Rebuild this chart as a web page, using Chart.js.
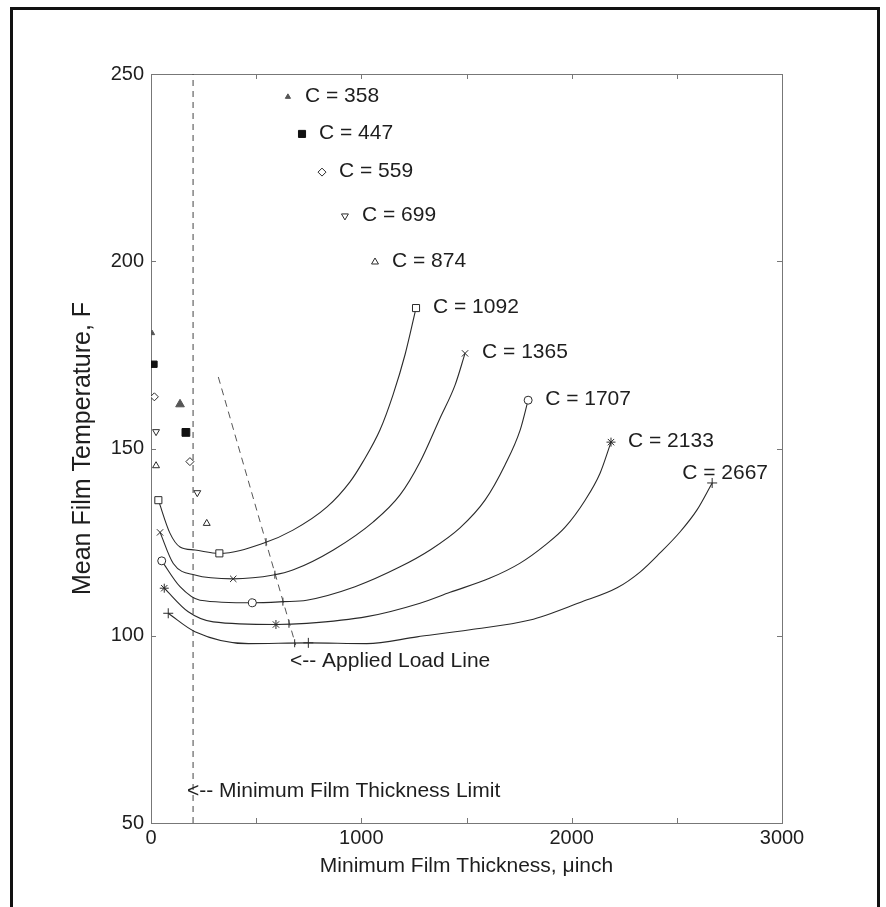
<!DOCTYPE html>
<html>
<head>
<meta charset="utf-8">
<script src="https://cdn.jsdelivr.net/npm/chart.js@4/dist/chart.umd.min.js"></script>
<style>
  html, body { margin: 0; padding: 0; background: #fff; overflow: hidden; }
  #frame { position: absolute; left: 10px; top: 7px; width: 864px; height: 1000px; border: 3px solid #111; }
  #chart { position: absolute; left: 0; top: 0; }
</style>
</head>
<body>
<div id="frame"></div>
<canvas id="chart" width="886" height="907"></canvas>
<script>
// Mean film temperature vs minimum film thickness, one series per clearance C

// axis ticks
const thicknessTicks  = [0, 500, 1000, 1500, 2000, 2500, 3000];
const thicknessLabels = [0, 1000, 2000, 3000];
const temperatureTicks = [50, 100, 150, 200, 250];

// clearances with no feasible curve: three isolated points each
const c358X = [5, 138, 651],   c358Y = [180.8, 161.8, 243.9];
const c447X = [14, 166, 718],  c447Y = [172.5, 154.3, 234.0];
const c559X = [16, 185, 813],  c559Y = [163.8, 146.5, 223.8];
const c699X = [24, 220, 922],  c699Y = [154.5, 138.2, 212.1];
const c874X = [24, 265, 1065], c874Y = [145.4, 130.0, 199.8];

// full curves
const c1092X = [35, 90, 138, 209, 325, 534, 675, 837, 946, 1008, 1089, 1151, 1208, 1260];
const c1092Y = [136.2, 127.4, 123.7, 122.9, 122.0, 124.7, 128.2, 134.4, 141.1, 146.5, 155.0, 164.4, 175.1, 187.5];
const c1365X = [43, 106, 209, 391, 582, 677, 867, 1057, 1184, 1279, 1374, 1446, 1493];
const c1365Y = [127.6, 119.3, 116.2, 115.2, 116.2, 117.6, 122.9, 130.4, 137.6, 146.4, 158.1, 167.0, 175.4];
const c1707X = [51, 138, 233, 482, 629, 740, 970, 1184, 1327, 1469, 1588, 1683, 1755, 1793];
const c1707Y = [120.0, 113.1, 109.5, 108.8, 109.1, 109.5, 113.1, 118.4, 122.9, 128.8, 136.2, 145.6, 154.9, 162.9];
const c2133X = [63, 177, 296, 594, 740, 1026, 1279, 1422, 1612, 1755, 1874, 1969, 2064, 2135, 2187];
const c2133Y = [112.7, 106.4, 103.7, 103.0, 103.3, 105.1, 108.7, 111.6, 115.4, 119.4, 124.2, 129.0, 136.2, 143.4, 151.7];
const c2667X = [82, 209, 463, 748, 1026, 1265, 1517, 1802, 2040, 2216, 2325, 2420, 2515, 2596, 2668];
const c2667Y = [106.0, 101.1, 97.9, 98.1, 97.9, 99.7, 101.6, 104.2, 108.9, 112.8, 117.0, 122.1, 127.7, 133.6, 140.8];

// applied load line and where it cuts each curve
const loadLineX = [320, 688], loadLineY = [169.1, 97.5];
const loadCutX = [547, 589, 627, 656, 683];
const loadCutY = [125.0, 116.3, 109.1, 103.2, 98.0];

// minimum film thickness limit
const limitX = [200, 200], limitY = [50, 250];

// text notes (data coordinates of the left end of the text)
const notes = [
  { text: '<-- Applied Load Line', x: 661, y: 93.3 },
  { text: '<-- Minimum Film Thickness Limit', x: 171, y: 58.6 }
];

const ink = '#2a2a2a';
const FONT = "'Liberation Sans', Arial, Helvetica, sans-serif";

function pts(xs, ys) { return xs.map((x, i) => ({ x, y: ys[i] })); }

function spots(tag, xs, ys, style, r, fill, rot) {
  return {
    label: tag, tag, data: pts(xs, ys), showLine: false,
    pointStyle: style, pointRadius: r, pointRotation: rot || 0,
    pointBorderColor: fill || ink, pointBackgroundColor: fill || '#fff',
    pointBorderWidth: 1
  };
}

// markers only at the start, the marked operating point and the end
function curve(tag, xs, ys, style, r, mid) {
  const marks = [0, mid, xs.length - 1];
  return {
    label: tag, tag, data: pts(xs, ys), showLine: true,
    borderColor: ink, borderWidth: 1.1, cubicInterpolationMode: 'monotone',
    pointStyle: style, pointRadius: ctx => marks.includes(ctx.dataIndex) ? r : 0,
    pointBorderColor: ink, pointBackgroundColor: '#fff', pointBorderWidth: 1
  };
}

const datasets = [
  spots('C = 358', c358X, c358Y, 'triangle', [3, 5, 3], '#555'),
  spots('C = 447', c447X, c447Y, 'rect', [4.5, 5.5, 5], '#111'),
  spots('C = 559', c559X, c559Y, 'rectRot', 4),
  spots('C = 699', c699X, c699Y, 'triangle', 4, null, 180),
  spots('C = 874', c874X, c874Y, 'triangle', 4),
  curve('C = 1092', c1092X, c1092Y, 'rect', 5, 4),
  curve('C = 1365', c1365X, c1365Y, 'crossRot', 4.5, 3),
  curve('C = 1707', c1707X, c1707Y, 'circle', 4, 3),
  curve('C = 2133', c2133X, c2133Y, 'star', 4.5, 3),
  curve('C = 2667', c2667X, c2667Y, 'cross', 5, 3),
  {
    label: 'load', data: pts(loadLineX, loadLineY), showLine: true,
    borderColor: '#555', borderWidth: 1, borderDash: [7, 5], pointRadius: 0
  },
  {
    label: 'cuts', data: pts(loadCutX, loadCutY), showLine: false,
    pointStyle: 'line', pointRotation: 90, pointRadius: 4,
    pointBorderColor: ink, pointBorderWidth: 1
  },
  {
    label: 'limit', data: pts(limitX, limitY), showLine: true,
    borderColor: '#444', borderWidth: 1, borderDash: [6, 5], pointRadius: 0
  }
];

// plot box with inward ticks on all four sides
const boxTicks = {
  id: 'boxTicks',
  beforeDatasetsDraw(chart) {
    const { ctx, chartArea: a, scales: { x, y } } = chart;
    ctx.save();
    ctx.strokeStyle = '#777';
    ctx.lineWidth = 1;
    ctx.strokeRect(a.left + 0.5, a.top + 0.5, a.right - a.left, a.bottom - a.top);
    ctx.beginPath();
    thicknessTicks.forEach(v => {
      const px = Math.round(x.getPixelForValue(v)) + 0.5;
      ctx.moveTo(px, a.bottom); ctx.lineTo(px, a.bottom - 5);
      ctx.moveTo(px, a.top); ctx.lineTo(px, a.top + 5);
    });
    temperatureTicks.forEach(v => {
      const py = Math.round(y.getPixelForValue(v)) + 0.5;
      ctx.moveTo(a.left, py); ctx.lineTo(a.left + 5, py);
      ctx.moveTo(a.right, py); ctx.lineTo(a.right - 5, py);
    });
    ctx.stroke();
    ctx.restore();
  }
};

// "C = ..." tags beside the last point of each series, plus the line notes
const tags = {
  id: 'tags',
  afterDatasetsDraw(chart) {
    const { ctx, scales: { x, y } } = chart;
    ctx.save();
    ctx.fillStyle = '#1e1e1e';
    ctx.font = '21px ' + FONT;
    ctx.textBaseline = 'middle';
    ctx.textAlign = 'left';
    chart.data.datasets.forEach(ds => {
      if (!ds.tag) return;
      const p = ds.data[ds.data.length - 1];
      const px = x.getPixelForValue(p.x), py = y.getPixelForValue(p.y);
      if (ds.tag === 'C = 2667') ctx.fillText(ds.tag, px - 30, py - 10);
      else ctx.fillText(ds.tag, px + 17, py - 1);
    });
    notes.forEach(n => ctx.fillText(n.text, x.getPixelForValue(n.x), y.getPixelForValue(n.y)));
    ctx.restore();
  }
};

new Chart(document.getElementById('chart'), {
  type: 'scatter',
  data: { datasets },
  options: {
    responsive: false,
    animation: false,
    events: [],
    layout: { padding: { left: 0, top: 74, right: 104, bottom: 0 } },
    plugins: { legend: { display: false }, tooltip: { enabled: false } },
    scales: {
      x: {
        type: 'linear', min: 0, max: 3000,
        afterBuildTicks: s => { s.ticks = thicknessTicks.map(v => ({ value: v })); },
        afterFit: s => { s.height = 84; },
        grid: { display: false, drawTicks: false }, border: { display: false },
        ticks: {
          color: '#1e1e1e', padding: 3, maxRotation: 0, autoSkip: false,
          font: { family: FONT, size: 20 },
          callback: v => thicknessLabels.includes(v) ? String(v) : ''
        },
        title: {
          display: true, text: 'Minimum Film Thickness, \u03bcinch', color: '#1e1e1e',
          font: { family: FONT, size: 21 }, padding: { top: 0, bottom: 28 }
        }
      },
      y: {
        type: 'linear', min: 50, max: 250,
        afterBuildTicks: s => { s.ticks = temperatureTicks.map(v => ({ value: v })); },
        afterFit: s => { s.width = 151; },
        grid: { display: false, drawTicks: false }, border: { display: false },
        ticks: {
          color: '#1e1e1e', padding: 7,
          font: { family: FONT, size: 20 }
        },
        title: {
          display: true, text: 'Mean Film Temperature, F', color: '#1e1e1e',
          font: { family: FONT, size: 25 }, padding: { top: 68, bottom: 0 }
        }
      }
    }
  },
  plugins: [boxTicks, tags]
});
</script>
</body>
</html>
